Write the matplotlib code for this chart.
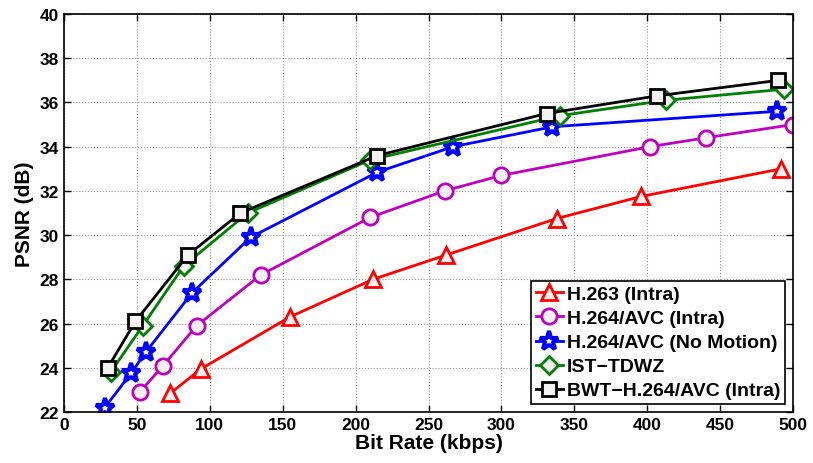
import matplotlib
matplotlib.use("Agg")
import matplotlib.pyplot as plt

plt.rcParams['font.family'] = ['Liberation Sans', 'DejaVu Sans']
plt.rcParams['font.weight'] = 'bold'

h263_x = [73, 94, 155, 212, 262, 338, 396, 492]
h263_y = [22.85, 23.95, 26.3, 28.0, 29.1, 30.75, 31.75, 33.0]

h264i_x = [52, 68, 91, 135, 210, 261, 300, 402, 440, 500]
h264i_y = [22.9, 24.1, 25.9, 28.2, 30.8, 32.0, 32.7, 34.0, 34.4, 35.0]

h264nm_x = [28, 46, 56, 88, 128, 215, 267, 335, 489]
h264nm_y = [22.2, 23.75, 24.7, 27.4, 29.9, 32.85, 34.0, 34.9, 35.6]

ist_x = [32, 54, 82, 126, 210, 340, 413, 494]
ist_y = [23.8, 25.9, 28.6, 31.0, 33.4, 35.4, 36.1, 36.6]

bwt_x = [30, 49, 85, 121, 215, 331, 407, 490]
bwt_y = [24.0, 26.1, 29.1, 31.0, 33.6, 35.5, 36.3, 37.0]

labels = ['H.263 (Intra)', 'H.264/AVC (Intra)', 'H.264/AVC (No Motion)', 'IST\u2212TDWZ', 'BWT\u2212H.264/AVC (Intra)']

fig = plt.figure(figsize=(8.13, 4.64), dpi=100)
ax = fig.add_axes([64/813, 1-413/464, (793-64)/813, (413-15)/464])

face = '#f2f2f2'
series = [
    (h263_x, h263_y, 'red', '^', 12, 2.0),
    (h264i_x, h264i_y, '#c000c0', 'o', 11, 2.0),
    (h264nm_x, h264nm_y, 'blue', '*', 14, 3.0),
    (ist_x, ist_y, 'green', 'D', 9.5, 2.0),
    (bwt_x, bwt_y, 'black', 's', 9.5, 2.0),
]
for (x, y, c, m, ms, mew), lab in zip(series, labels):
    ax.plot(x, y, color=c, marker=m, markersize=ms, markerfacecolor=face,
            markeredgecolor=c, markeredgewidth=mew, linewidth=2.0, label=lab)

ax.set_xlim(0, 500)
ax.set_ylim(22, 40)
ax.set_xticks(range(0, 501, 50))
ax.set_yticks(range(22, 41, 2))
ax.tick_params(direction='in', labelsize=12.5, width=1, length=5, top=True, right=True)
for lbl in ax.get_xticklabels() + ax.get_yticklabels():
    lbl.set_fontweight('bold')
ax.grid(True, linestyle=':', color='#999999', linewidth=0.8)
for s in ax.spines.values():
    s.set_linewidth(1.2)
ax.set_xlabel('Bit Rate (kbps)', fontsize=15, fontweight='bold', labelpad=1)
ax.set_ylabel('PSNR (dB)', fontsize=15, fontweight='bold', labelpad=4)

leg = ax.legend(loc='lower right', prop={'weight': 'bold', 'size': 14},
                fancybox=False, edgecolor='black', framealpha=1, handlelength=1.4,
                handletextpad=0.2, borderpad=0.25, labelspacing=0.33,
                borderaxespad=0.4)
leg.get_frame().set_linewidth(1.2)

fig.savefig('out.png', dpi=100)
